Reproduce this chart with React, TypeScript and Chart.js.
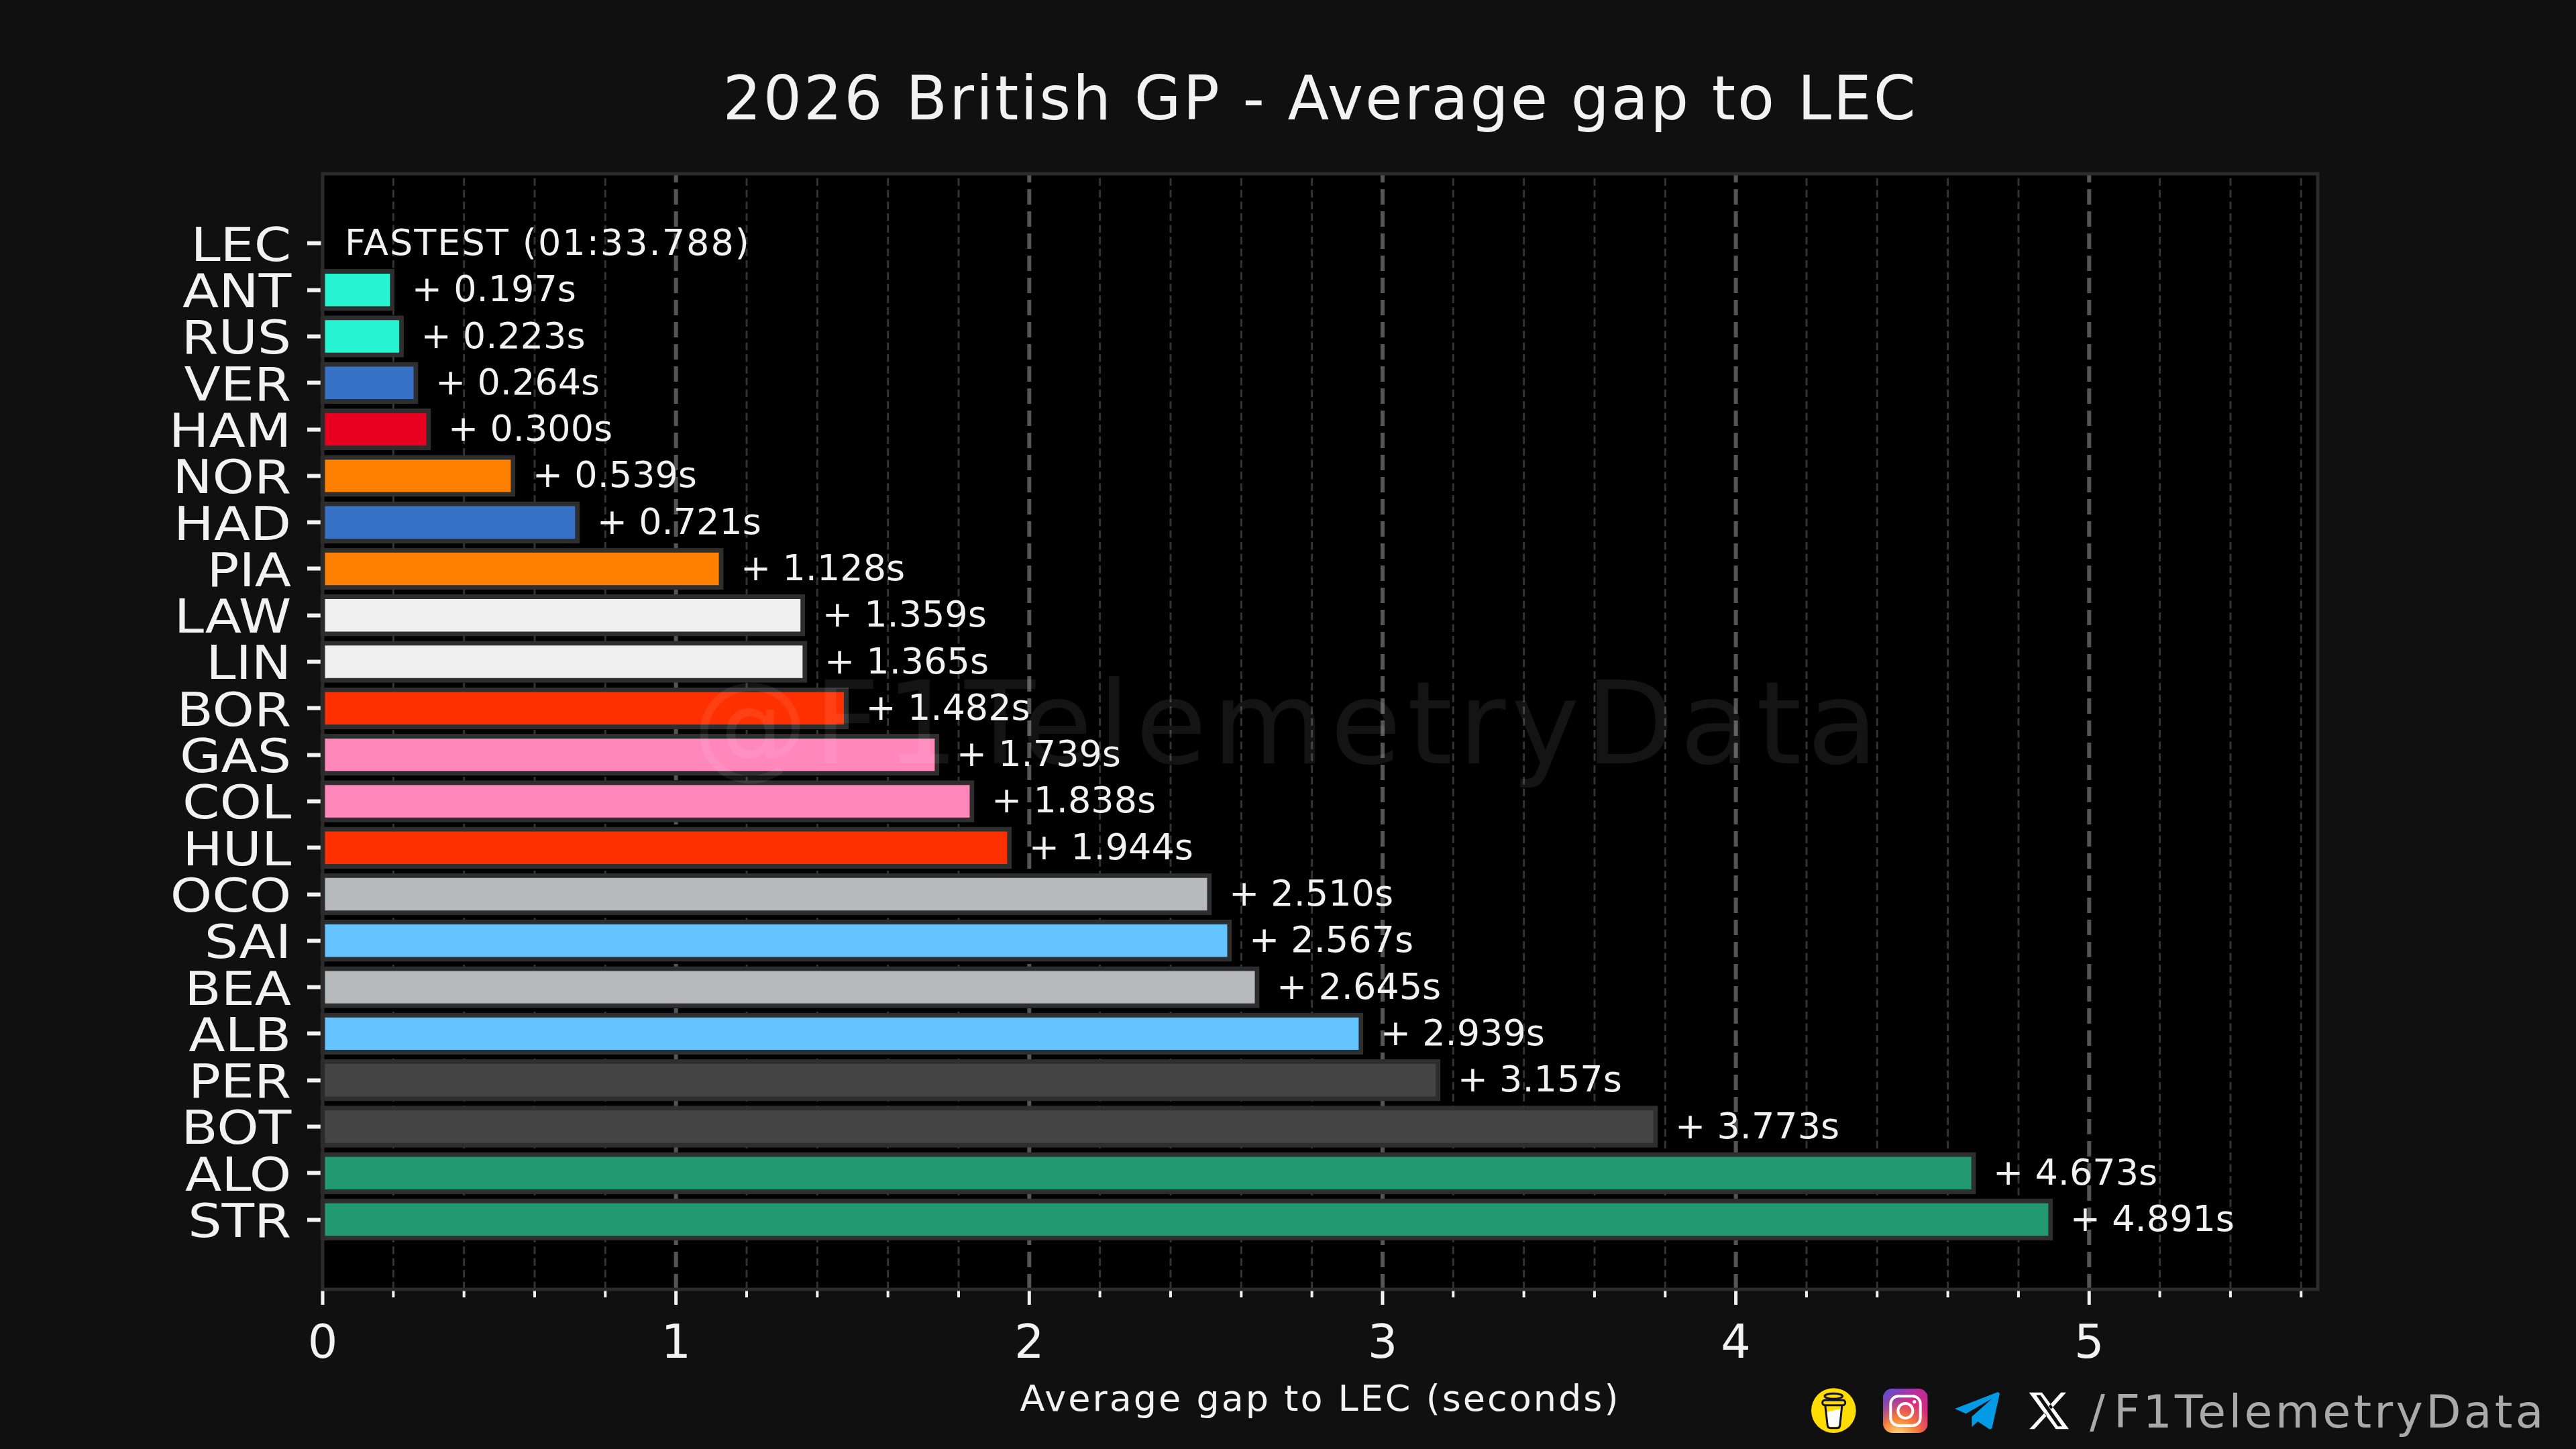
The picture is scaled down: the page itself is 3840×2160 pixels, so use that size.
import { useEffect, useRef } from "react";
import Chart from "chart.js/auto";

const FONT = "'DejaVu Sans'";

const drivers = ["LEC", "ANT", "RUS", "VER", "HAM", "NOR", "HAD", "PIA", "LAW", "LIN", "BOR", "GAS", "COL", "HUL", "OCO", "SAI", "BEA", "ALB", "PER", "BOT", "ALO", "STR"];
const gaps = [0, 0.197, 0.223, 0.264, 0.3, 0.539, 0.721, 1.128, 1.359, 1.365, 1.482, 1.739, 1.838, 1.944, 2.51, 2.567, 2.645, 2.939, 3.157, 3.773, 4.673, 4.891];
const teamColors = ["#E80020", "#27F4D2", "#27F4D2", "#3671C6", "#E80020", "#FF8000", "#3671C6", "#FF8000", "#F0F0F0", "#F0F0F0", "#FF3000", "#FF87BC", "#FF87BC", "#FF3000", "#B6BABD", "#64C4FF", "#B6BABD", "#64C4FF", "#444444", "#444444", "#229971", "#229971"];
const fastestLabel = "FASTEST (01:33.788)";

// empty first/last slots give the 1.5 category margin above and below the bars
const yLabels = ["", ...drivers, ""];
const yValues = [null, ...gaps, null];
const yColors = ["transparent", ...teamColors, "transparent"];

const isWhole = (v: number) => Math.abs(v - Math.round(v)) < 1e-6;

const drawIcons = (ctx: CanvasRenderingContext2D) => {
  ctx.save();
  ctx.translate(2680, 2050);
  ctx.scale(1 / 3, 1 / 3);

  // cup
  ctx.fillStyle = "#FFDD00";
  ctx.beginPath();
  ctx.arc(160, 158, 100, 0, Math.PI * 2);
  ctx.fill();
  ctx.fillStyle = "#ffffff";
  ctx.beginPath();
  ctx.moveTo(128, 165);
  ctx.lineTo(192, 150);
  ctx.lineTo(186, 230);
  ctx.lineTo(134, 230);
  ctx.closePath();
  ctx.fill();
  ctx.strokeStyle = "#14132b";
  ctx.lineWidth = 9;
  ctx.beginPath();
  ctx.moveTo(122, 132);
  ctx.lineTo(133, 226);
  ctx.quadraticCurveTo(134, 236, 146, 236);
  ctx.lineTo(176, 236);
  ctx.quadraticCurveTo(186, 236, 188, 226);
  ctx.lineTo(198, 132);
  ctx.stroke();
  ctx.beginPath();
  ctx.roundRect(110, 112, 102, 22, 10);
  ctx.stroke();
  ctx.beginPath();
  ctx.ellipse(160, 94, 40, 12, 0, 0, Math.PI * 2);
  ctx.stroke();

  // instagram
  ctx.save();
  ctx.beginPath();
  ctx.roundRect(381, 60, 200, 198, 42);
  ctx.clip();
  const igBase = ctx.createRadialGradient(450, 270, 10, 450, 270, 290);
  igBase.addColorStop(0, "#fdd074");
  igBase.addColorStop(0.25, "#f77f34");
  igBase.addColorStop(0.55, "#d62a7f");
  igBase.addColorStop(1, "#a12fb8");
  ctx.fillStyle = igBase;
  ctx.fillRect(381, 60, 200, 198);
  const igTop = ctx.createLinearGradient(381, 60, 470, 150);
  igTop.addColorStop(0, "rgba(80,85,215,1)");
  igTop.addColorStop(1, "rgba(80,85,215,0)");
  ctx.fillStyle = igTop;
  ctx.fillRect(381, 60, 200, 198);
  ctx.restore();
  ctx.strokeStyle = "#ffffff";
  ctx.lineWidth = 12;
  ctx.beginPath();
  ctx.roundRect(415, 94, 133, 131, 34);
  ctx.stroke();
  ctx.beginPath();
  ctx.arc(481, 159, 33, 0, Math.PI * 2);
  ctx.stroke();
  ctx.fillStyle = "#ffffff";
  ctx.beginPath();
  ctx.arc(521, 119, 8, 0, Math.PI * 2);
  ctx.fill();

  // telegram
  ctx.fillStyle = "#039BE5";
  ctx.beginPath();
  ctx.moveTo(702, 150);
  ctx.lineTo(895, 75);
  ctx.lineTo(903, 82);
  ctx.lineTo(868, 238);
  ctx.lineTo(858, 242);
  ctx.lineTo(805, 207);
  ctx.lineTo(778, 232);
  ctx.lineTo(778, 185);
  ctx.lineTo(868, 105);
  ctx.lineTo(752, 172);
  ctx.closePath();
  ctx.fill();

  // x
  ctx.fillStyle = "#ffffff";
  ctx.beginPath();
  ctx.moveTo(1034, 77);
  ctx.lineTo(1092, 77);
  ctx.lineTo(1212, 241);
  ctx.lineTo(1154, 241);
  ctx.closePath();
  ctx.moveTo(1066, 89);
  ctx.lineTo(1163, 229);
  ctx.lineTo(1182, 229);
  ctx.lineTo(1085, 89);
  ctx.closePath();
  ctx.moveTo(1177, 77);
  ctx.lineTo(1200, 77);
  ctx.lineTo(1132, 152);
  ctx.lineTo(1122, 139);
  ctx.closePath();
  ctx.moveTo(1103, 168);
  ctx.lineTo(1113, 181);
  ctx.lineTo(1058, 241);
  ctx.lineTo(1036, 241);
  ctx.closePath();
  ctx.fill("evenodd");
  ctx.restore();
};

// the reference face is wider than anything installed, so stretch the native labels a bit
const wrapLabels = (scale: any, stretch: number, anchor: number) => {
  if (scale._wrapped) return;
  scale._wrapped = true;
  const drawLabels = scale.drawLabels;
  scale.drawLabels = function (area: any) {
    const ctx = this.ctx;
    ctx.save();
    ctx.letterSpacing = "0px";
    ctx.translate(anchor, 0);
    ctx.scale(stretch, 1);
    ctx.translate(-anchor, 0);
    drawLabels.call(this, area);
    ctx.restore();
  };
};

const chartDecor = {
  id: "chartDecor",
  beforeDraw(chart: any) {
    const { ctx, chartArea, width, height, scales } = chart;
    wrapLabels(scales.y, 1.15, 433);
    wrapLabels(scales.x, 1, 0);
    ctx.save();
    ctx.fillStyle = "#101010";
    ctx.fillRect(0, 0, width, height);
    ctx.fillStyle = "#000000";
    ctx.fillRect(chartArea.left, chartArea.top, chartArea.right - chartArea.left, chartArea.bottom - chartArea.top);
    ctx.restore();
    ctx.letterSpacing = "3px";
  },
  beforeDatasetsDraw(chart: any) {
    // minor and major x grid lines / ticks differ in dash and length
    const { ctx, chartArea, scales } = chart;
    ctx.save();
    scales.x.ticks.forEach((tick: any) => {
      const major = isWhole(tick.value);
      const px = scales.x.getPixelForValue(tick.value);
      ctx.setLineDash(major ? [23, 10] : [11.5, 6]);
      ctx.lineWidth = major ? 6 : 3;
      ctx.strokeStyle = major ? "#555555" : "#333333";
      if (tick.value > 0) {
        ctx.beginPath();
        ctx.moveTo(px, chartArea.bottom);
        ctx.lineTo(px, chartArea.top);
        ctx.stroke();
      }
      ctx.setLineDash([]);
      ctx.lineWidth = major ? 5 : 4;
      ctx.strokeStyle = "#f2f2f2";
      ctx.beginPath();
      ctx.moveTo(px, chartArea.bottom + 2);
      ctx.lineTo(px, chartArea.bottom + (major ? 23 : 12));
      ctx.stroke();
    });
    ctx.restore();
  },
  afterDatasetsDraw(chart: any) {
    const { ctx, chartArea, scales } = chart;
    const meta = chart.getDatasetMeta(0);
    ctx.save();
    // frame
    ctx.strokeStyle = "#2d2a2a";
    ctx.lineWidth = 5;
    ctx.strokeRect(chartArea.left, chartArea.top, chartArea.right - chartArea.left, chartArea.bottom - chartArea.top);

    // value labels
    ctx.fillStyle = "#f2f2f2";
    ctx.font = `54px ${FONT}`;
    ctx.textAlign = "left";
    ctx.textBaseline = "middle";
    yValues.forEach((v, i) => {
      if (v === null) return;
      const y = meta.data[i].y + 3;
      ctx.letterSpacing = v === 0 ? "2px" : "0px";
      const text = v === 0 ? fastestLabel : `+ ${v.toFixed(3)}s`;
      ctx.fillText(text, scales.x.getPixelForValue(v) + (v === 0 ? 33 : 29), y);
    });

    // watermark sits over the bars
    ctx.fillStyle = "rgba(255,255,255,0.08)";
    ctx.font = `172px ${FONT}`;
    ctx.textAlign = "center";
    ctx.textBaseline = "alphabetic";
    ctx.letterSpacing = "8.5px";
    ctx.fillText("@F1TelemetryData", 1920, 1138);

    // footer
    ctx.fillStyle = "#aaaaaa";
    ctx.font = `68px ${FONT}`;
    ctx.textAlign = "left";
    ctx.letterSpacing = "4.3px";
    ctx.fillText("/", 3115, 2128);
    ctx.fillText("F1TelemetryData", 3151, 2128);
    ctx.letterSpacing = "0px";
    drawIcons(ctx);
    ctx.restore();
  },
};

const App = () => {
  const chartRef = useRef<HTMLCanvasElement | null>(null);

  useEffect(() => {
    if (!chartRef.current) return;
    const chart = new Chart(chartRef.current, {
      type: "bar",
      plugins: [chartDecor],
      data: {
        labels: yLabels,
        datasets: [
          {
            data: yValues as any,
            backgroundColor: yColors,
            borderColor: "#2e2e2e",
            borderWidth: (c: any) => (c.raw ? 7 : 0),
            inflateAmount: (c: any) => (c.raw ? 3.5 : 0),
            borderSkipped: false,
            barPercentage: 0.8,
            categoryPercentage: 1,
            clip: false,
          } as any,
        ],
      },
      options: {
        indexAxis: "y",
        responsive: false,
        devicePixelRatio: 1,
        animation: false,
        layout: { padding: { left: 0, right: 385, top: 0, bottom: 0 } },
        plugins: {
          legend: { display: false },
          tooltip: { enabled: false },
          title: {
            display: true,
            fullSize: false,
            text: "2026 British GP - Average gap to LEC",
            color: "#f2f2f2",
            font: { family: FONT, size: 90, weight: "normal", lineHeight: 1 },
            padding: { top: 110, bottom: 59 },
          },
        },
        scales: {
          x: {
            type: "linear",
            position: "bottom",
            min: 0,
            max: 5.647,
            afterFit: (s: any) => {
              s.height = 238;
            },
            grid: { display: false, drawTicks: false },
            border: { display: false },
            ticks: {
              stepSize: 0.2,
              includeBounds: false,
              autoSkip: false,
              maxRotation: 0,
              color: "#f2f2f2",
              padding: 42,
              font: { family: FONT, size: 70 },
              callback: (v: any) => (isWhole(Number(v)) ? String(Math.round(Number(v))) : ""),
            },
            title: {
              display: true,
              text: "Average gap to LEC (seconds)",
              color: "#f2f2f2",
              font: { family: FONT, size: 54, lineHeight: 1 },
              padding: { top: 0, bottom: 44 },
            },
          },
          y: {
            type: "category",
            offset: true,
            afterFit: (s: any) => {
              s.width = 481;
            },
            grid: {
              offset: false,
              drawOnChartArea: false,
              tickLength: 23,
              tickWidth: 6,
              tickColor: (c: any) => (c.index === 0 || c.index === yLabels.length - 1 ? "transparent" : "#f2f2f2"),
            },
            border: { display: false },
            ticks: {
              autoSkip: false,
              color: "#f2f2f2",
              padding: 24,
              labelOffset: 8,
              font: { family: FONT, size: 69 },
            },
          },
        },
      } as any,
    });
    return () => chart.destroy();
  }, []);

  return (
    <div style={{ position: "fixed", left: 0, top: 0, width: 3840, height: 2160, background: "#101010" }}>
      <canvas ref={chartRef} width={3840} height={2160} style={{ display: "block" }}></canvas>
    </div>
  );
};

export default App;
